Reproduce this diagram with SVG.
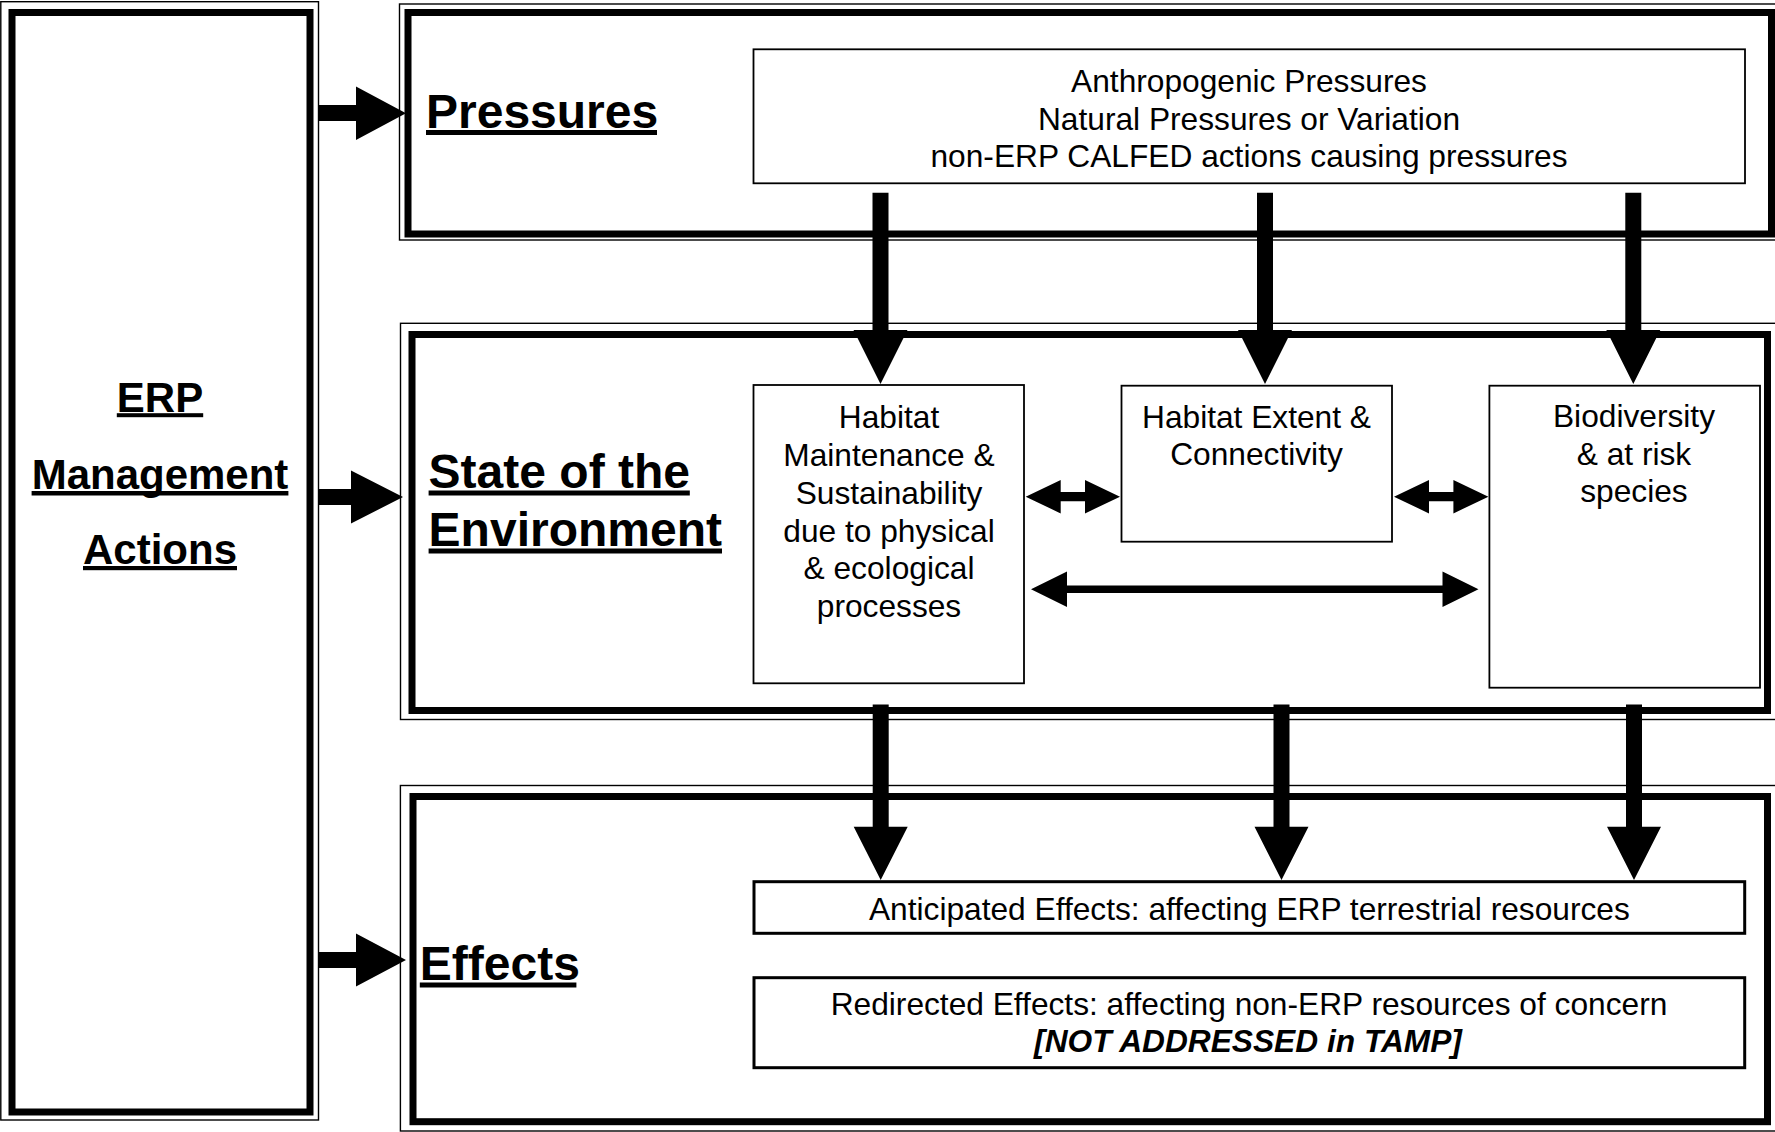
<svg xmlns="http://www.w3.org/2000/svg" width="1775" height="1132" viewBox="0 0 1775 1132">
  <style>
    .frame { fill: none; stroke: #000; stroke-width: 1.4; }
    .band { fill: none; stroke: #000; stroke-width: 7; }
    .box { fill: #fff; stroke: #000; stroke-width: 1.8; }
    .ebox { fill: #fff; stroke: #000; stroke-width: 3; }
    .arrow { fill: #000; stroke: none; }
    .ul { fill: #000; }
    .t { font-family: "Liberation Sans", Arial, sans-serif; font-size: 31.7px; fill: #000; text-anchor: middle; }
    .bi { font-weight: bold; font-style: italic; }
    .h { font-family: "Liberation Sans", Arial, sans-serif; font-weight: bold; font-size: 48px; fill: #000; }
    .hs { font-family: "Liberation Sans", Arial, sans-serif; font-weight: bold; font-size: 42px; fill: #000; text-anchor: middle; }
  </style>
  <rect width="1775" height="1132" fill="#fff"/>

  <!-- ERP management actions column -->
  <g id="erp-actions">
    <rect class="frame" x="0.8" y="1.7" width="317.7" height="1118.3"/>
    <rect class="band" x="12" y="12.5" width="298" height="1099.5"/>
    <text class="hs" x="160" y="411.7">ERP</text>
    <rect class="ul" x="116.8" y="413.2" width="86.4" height="4"/>
    <text class="hs" x="160" y="488.5">Management</text>
    <rect class="ul" x="31.6" y="491" width="256.8" height="4.5"/>
    <text class="hs" x="160" y="564">Actions</text>
    <rect class="ul" x="83" y="566" width="154" height="4.2"/>
  </g>

  <!-- Pressures band -->
  <g id="pressures">
    <rect class="frame" x="399.5" y="4" width="1390" height="236"/>
    <rect class="band" x="408" y="12.5" width="1363.5" height="221.5"/>
    <text class="h" x="426" y="128.3">Pressures</text>
    <rect class="ul" x="426" y="130" width="231" height="5"/>
  </g>
  <g id="pressure-sources">
    <rect class="box" x="753.5" y="49.3" width="991.5" height="134"/>
    <text class="t" x="1249" y="91.7">Anthropogenic Pressures</text>
    <text class="t" x="1249" y="129.5">Natural Pressures or Variation</text>
    <text class="t" x="1249" y="167.3">non-ERP CALFED actions causing pressures</text>
  </g>

  <!-- State of the Environment band -->
  <g id="state">
    <rect class="frame" x="400.5" y="323.3" width="1390" height="396.2"/>
    <rect class="band" x="412" y="334.5" width="1355.5" height="376"/>
    <text class="h" x="428.6" y="488">State of the</text>
    <rect class="ul" x="428.6" y="490.5" width="261.2" height="5"/>
    <text class="h" x="428.6" y="546">Environment</text>
    <rect class="ul" x="428.6" y="548.5" width="293.4" height="5"/>
  </g>
  <g id="habitat-maintenance">
    <rect class="box" x="753.5" y="385" width="270.5" height="298.3"/>
    <text class="t" x="889" y="427.7">Habitat</text>
    <text class="t" x="889" y="465.7">Maintenance &amp;</text>
    <text class="t" x="889" y="503.6">Sustainability</text>
    <text class="t" x="889" y="541.5">due to physical</text>
    <text class="t" x="889" y="579.4">&amp; ecological</text>
    <text class="t" x="889" y="617.3">processes</text>
  </g>
  <g id="habitat-extent">
    <rect class="box" x="1121.5" y="385.7" width="270.5" height="156"/>
    <text class="t" x="1256.5" y="427.7">Habitat Extent &amp;</text>
    <text class="t" x="1256.5" y="465.2">Connectivity</text>
  </g>
  <g id="biodiversity">
    <rect class="box" x="1489.4" y="385.7" width="270.6" height="302"/>
    <text class="t" x="1634" y="427">Biodiversity</text>
    <text class="t" x="1634" y="464.5">&amp; at risk</text>
    <text class="t" x="1634" y="502">species</text>
  </g>

  <!-- Effects band -->
  <g id="effects">
    <rect class="frame" x="400.4" y="785.5" width="1390" height="345.5"/>
    <rect class="band" x="413" y="796.5" width="1354.5" height="325.2"/>
    <text class="h" x="419.8" y="980">Effects</text>
    <rect class="ul" x="419.8" y="982.5" width="156.6" height="5"/>
  </g>
  <g id="anticipated-effects">
    <rect class="ebox" x="754" y="881.7" width="990.7" height="51.6"/>
    <text class="t" x="1249.4" y="920">Anticipated Effects: affecting ERP terrestrial resources</text>
  </g>
  <g id="redirected-effects">
    <rect class="ebox" x="754" y="977.7" width="990.7" height="90"/>
    <text class="t" x="1249" y="1015">Redirected Effects: affecting non-ERP resources of concern</text>
    <text class="t bi" x="1248" y="1051.7">[NOT ADDRESSED in TAMP]</text>
  </g>

  <!-- Connectors -->
  <g id="connectors">
    <!-- management actions into each band -->
    <path class="arrow" d="M319,105 L356,105 L356,86.5 L406,113.3 L356,140 L356,121 L319,121 Z"/>
    <path class="arrow" d="M319,489 L351,489 L351,470.5 L403,497 L351,523.5 L351,505 L319,505 Z"/>
    <path class="arrow" d="M319,952 L356,952 L356,933.5 L406,960 L356,986.5 L356,968 L319,968 Z"/>

    <!-- pressures down into the state boxes -->
    <path class="arrow" d="M872.5,192.7 L888.5,192.7 L888.5,330 L907.5,330 L880.5,384 L853.5,330 L872.5,330 Z"/>
    <path class="arrow" d="M1257,192.7 L1273,192.7 L1273,330 L1292,330 L1265,384 L1238,330 L1257,330 Z"/>
    <path class="arrow" d="M1625.3,192.7 L1641.3,192.7 L1641.3,330 L1660.3,330 L1633.3,384 L1606.3,330 L1625.3,330 Z"/>

    <!-- state down into the effects -->
    <path class="arrow" d="M872.7,704.5 L888.7,704.5 L888.7,826.7 L907.7,826.7 L880.7,880 L853.7,826.7 L872.7,826.7 Z"/>
    <path class="arrow" d="M1273.5,704.5 L1289.5,704.5 L1289.5,826.7 L1308.5,826.7 L1281.5,880 L1254.5,826.7 L1273.5,826.7 Z"/>
    <path class="arrow" d="M1626,704.5 L1642,704.5 L1642,826.7 L1661,826.7 L1634,880 L1607,826.7 L1626,826.7 Z"/>

    <!-- two-way links between the state boxes -->
    <path class="arrow" d="M1025.7,496.7 L1060.7,480 L1060.7,492.1 L1085,492.1 L1085,480 L1120,496.7 L1085,513.4 L1085,501.3 L1060.7,501.3 L1060.7,513.4 Z"/>
    <path class="arrow" d="M1394,496.7 L1429,480 L1429,492.1 L1453.4,492.1 L1453.4,480 L1488.4,496.7 L1453.4,513.4 L1453.4,501.3 L1429,501.3 L1429,513.4 Z"/>
    <path class="arrow" d="M1031,589.3 L1067,571.6 L1067,585.5 L1442.5,585.5 L1442.5,571.6 L1478.5,589.3 L1442.5,607 L1442.5,593.1 L1067,593.1 L1067,607 Z"/>
  </g>
</svg>
